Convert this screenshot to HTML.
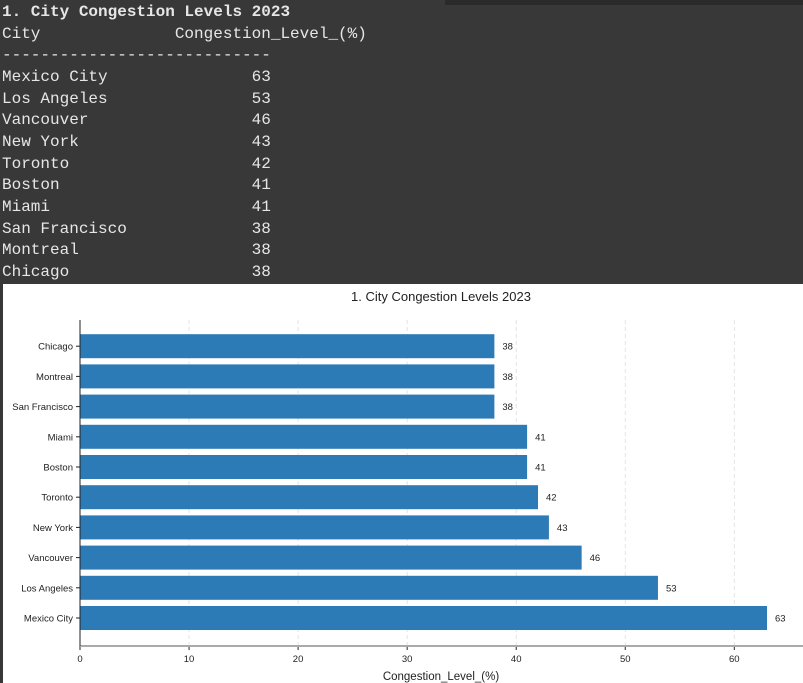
<!DOCTYPE html>
<html><head><meta charset="utf-8"><style>
body{margin:0;width:803px;height:683px;overflow:hidden;background:#383838;font-family:"Liberation Sans",sans-serif}
#term{position:absolute;left:2px;top:2px;width:800px;height:282px;font-family:"Liberation Mono",monospace;font-size:16px;color:#e6e6e6;line-height:21.67px;white-space:pre}
#term b{font-weight:bold}
#chart{position:absolute;left:3px;top:284px}
</style></head><body>
<div id="term"><b>1. City Congestion Levels 2023</b>
City              Congestion_Level_(%)
----------------------------
Mexico City               63
Los Angeles               53
Vancouver                 46
New York                  43
Toronto                   42
Boston                    41
Miami                     41
San Francisco             38
Montreal                  38
Chicago                   38</div>
<div style="position:absolute;left:445px;top:0;width:358px;height:5px;background:#2a2a2a"></div>
<svg id="chart" width="800" height="399"></svg>
<script>
const categories=["Mexico City","Los Angeles","Vancouver","New York","Toronto","Boston","Miami","San Francisco","Montreal","Chicago"];
const values=[63,53,46,43,42,41,41,38,38,38];
const ticks=[0,10,20,30,40,50,60];
const svg=document.getElementById('chart');
const NS='http://www.w3.org/2000/svg';
const OX=3,OY=284;
function x(v){return 80-OX+v*10.905;}
const step=30.2;
function y(i){return 618-OY-i*step;}
function mk(t,a,txt){const e=document.createElementNS(NS,t);for(const k in a)e.setAttribute(k,a[k]);if(txt!==undefined)e.textContent=txt;svg.appendChild(e);return e;}
let r=mk('rect',{x:0,y:0,width:800,height:399,fill:'#fff'});


let t=mk('text',{x:438,y:17,'text-anchor':'middle','font-size':13,fill:'#222'},'1. City Congestion Levels 2023');


ticks.forEach(v=>{
 let g=mk('line',{x1:x(v),x2:x(v),y1:36,y2:362,stroke:'#ddd','stroke-dasharray':'4,3','stroke-width':0.8});
 
 
 mk('line',{x1:x(v),x2:x(v),y1:362,y2:366,stroke:'#222'});
 let l=mk('text',{x:x(v),y:378,'text-anchor':'middle','font-size':9.5,fill:'#222'},String(v));
 
 
});
categories.forEach((c,i)=>{
 const cy=y(i);
 let b=mk('rect',{x:x(0),y:cy-12,width:x(values[i])-x(0),height:24,fill:'#2c7bb6'});
 
 
 mk('line',{x1:x(0)-4,x2:x(0),y1:cy,y2:cy,stroke:'#222'});
 let l=mk('text',{x:x(0)-7,y:cy+3.5,'text-anchor':'end','font-size':9.5,fill:'#222'},c);
 
 
 let v=mk('text',{x:x(values[i])+8,y:cy+3.5,'font-size':9.5,fill:'#222'},String(values[i]));
 
 
});
let ax=mk('line',{x1:x(0),x2:800,y1:362,y2:362,stroke:'#aaa','stroke-width':2});


let ay=mk('line',{x1:x(0),x2:x(0),y1:36,y2:362,stroke:'#222','stroke-width':1});


let xt=mk('text',{x:438,y:396,'text-anchor':'middle','font-size':11.5,fill:'#222'},'Congestion_Level_(%)');


</script>
</body></html>
